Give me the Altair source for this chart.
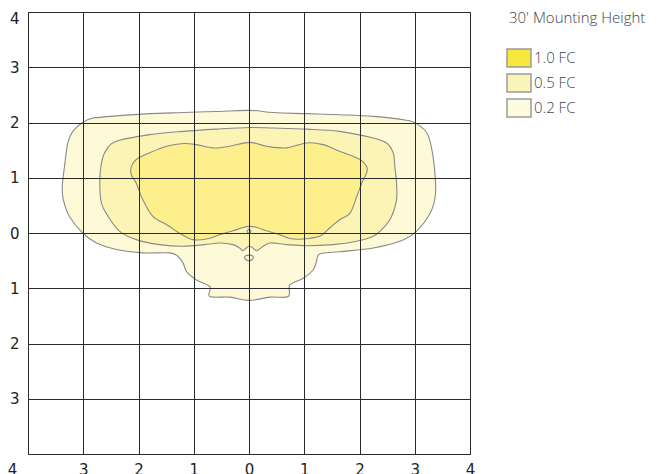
import altair as alt
import pandas as pd

# Iso-footcandle contours (grid units, mounting heights)
outer_x = [-3.01, -2.82, -2.40, -1.80, -1.19, -0.59, 0.01, 0.44, 1.04, 1.64, 2.25, 2.85, 3.03, 3.22, 3.31, 3.37,
           3.37, 3.28, 3.03, 2.73, 2.25, 1.64, 1.28, 1.22, 1.16, 0.98, 0.74, 0.71, 0.38, 0.01, -0.35, -0.71,
           -0.71, -0.95, -1.13, -1.19, -1.28, -1.43, -1.92, -2.40, -2.76, -3.01, -3.25, -3.36, -3.38, -3.34,
           -3.28, -3.19]
outer_y = [2.00, 2.08, 2.12, 2.16, 2.18, 2.20, 2.22, 2.18, 2.16, 2.14, 2.11, 2.04, 1.98, 1.81, 1.51, 1.02,
           0.66, 0.36, 0.03, -0.15, -0.27, -0.34, -0.38, -0.52, -0.67, -0.82, -0.94, -1.15, -1.16, -1.22,
           -1.16, -1.15, -0.97, -0.85, -0.70, -0.55, -0.43, -0.36, -0.36, -0.30, -0.18, 0.00, 0.30, 0.60,
           0.84, 1.20, 1.63, 1.84]

mid_x = [-2.40, -1.80, -1.19, -0.59, 0.01, 0.44, 1.04, 1.64, 2.25, 2.49, 2.61, 2.64, 2.67, 2.67, 2.58, 2.43,
         2.25, 1.95, 1.52, 1.04, 0.68, 0.38, 0.23, 0.14, 0.07, 0.01, -0.05, -0.11, -0.17, -0.29, -0.53,
         -0.71, -1.19, -1.62, -2.04, -2.34, -2.55, -2.67, -2.70, -2.67, -2.58]
mid_y = [1.66, 1.78, 1.84, 1.88, 1.91, 1.90, 1.88, 1.84, 1.72, 1.63, 1.45, 1.20, 0.90, 0.60, 0.30, 0.09,
         -0.06, -0.15, -0.21, -0.23, -0.21, -0.18, -0.26, -0.32, -0.27, -0.24, -0.27, -0.32, -0.27, -0.21,
         -0.18, -0.20, -0.24, -0.21, -0.12, 0.03, 0.30, 0.54, 0.90, 1.27, 1.51]

inner_x = [-2.13, -2.04, -1.80, -1.49, -1.19, -0.95, -0.65, -0.35, 0.01, 0.32, 0.68, 1.04, 1.34, 1.64, 2.01,
           2.13, 2.13, 2.04, 1.95, 1.83, 1.64, 1.46, 1.28, 0.97, 0.74, 0.56, 0.32, 0.14, 0.01, -0.11, -0.29,
           -0.53, -0.77, -1.02, -1.25, -1.49, -1.74, -1.92, -2.04, -2.13]
inner_y = [1.20, 1.33, 1.45, 1.57, 1.62, 1.60, 1.54, 1.57, 1.64, 1.57, 1.54, 1.63, 1.60, 1.48, 1.33,
           1.20, 1.09, 0.90, 0.66, 0.36, 0.24, 0.09, -0.06, -0.11, -0.10, -0.03, 0.04, 0.10, 0.12, 0.10,
           0.04, -0.03, -0.11, -0.12, -0.01, 0.15, 0.30, 0.60, 0.90, 1.05]

dot_x = [-0.035, 0.0, 0.035, 0.0]
dot_y = [0.03, 0.065, 0.03, -0.005]

blob_x = [-0.08, -0.06, 0.0, 0.06, 0.08, 0.06, 0.0, -0.06]
blob_y = [-0.44, -0.41, -0.40, -0.41, -0.44, -0.48, -0.50, -0.48]

levels = ["1.0 FC", "0.5 FC", "0.2 FC"]
legend_colors = ["#F6E83C", "#FBF4BA", "#FEFCDE"]
area_colors = {"outer": "#FEF9D6", "mid": "#FCF4B4", "inner": "#FDEF8C"}
ticks = [-4, -3, -2, -1, 0, 1, 2, 3, 4]


def poly(xs, ys):
    return pd.DataFrame({"x": xs, "y": ys, "i": list(range(len(xs)))})


xscale = alt.Scale(domain=[-4, 4], nice=False, zero=False)
yscale = alt.Scale(domain=[-4, 4], nice=False, zero=False)

x_axis = alt.Axis(
    values=ticks, title=None, ticks=False, domain=False, grid=True,
    gridColor="#2a2a2a", gridWidth=1, gridOpacity=1,
    labelExpr="'' + abs(datum.value)", labelFont="DejaVu Sans", labelFontSize=15,
    labelColor="#222", labelPadding=8, labelFlush=False,
    labelOffset={"condition": {"test": "datum.value == -4", "value": -16}, "value": 0},
    zindex=1,
)
y_axis = alt.Axis(
    values=ticks, title=None, ticks=False, domain=False, grid=True,
    gridColor="#2a2a2a", gridWidth=1, gridOpacity=1,
    labelExpr="datum.value == -4 ? '' : '' + abs(datum.value)", labelFont="DejaVu Sans",
    labelFontSize=15, labelColor="#222", labelPadding=9, labelFlush=False,
    labelOffset={"condition": {"test": "datum.value == 4", "value": 6}, "value": 0},
    zindex=1,
)


def shape(xs, ys, fill):
    return alt.Chart(poly(xs, ys)).mark_line(
        fill=fill, stroke="#8a8a8a", strokeWidth=1.1, interpolate="cardinal-closed"
    ).encode(
        x=alt.X("x:Q", scale=xscale, axis=x_axis),
        y=alt.Y("y:Q", scale=yscale, axis=y_axis),
        order=alt.Order("i:Q"),
    )


outer = shape(outer_x, outer_y, area_colors["outer"])
mid = shape(mid_x, mid_y, area_colors["mid"])
inner = shape(inner_x, inner_y, area_colors["inner"])
dot = shape(dot_x, dot_y, area_colors["mid"])
blob = shape(blob_x, blob_y, area_colors["outer"])

legend_df = pd.DataFrame({"level": levels, "x": [10, 10, 10], "y": [10, 10, 10]})
legend_layer = alt.Chart(legend_df).mark_square(clip=True, size=10).encode(
    x=alt.X("x:Q", scale=xscale, axis=x_axis),
    y=alt.Y("y:Q", scale=yscale, axis=y_axis),
    fill=alt.Fill(
        "level:N",
        scale=alt.Scale(domain=levels, range=legend_colors),
        legend=alt.Legend(
            title="30' Mounting Height", orient="none", legendX=481, legendY=-1,
            symbolType="M-1.333,-1H1.333V1H-1.333Z", symbolSize=324,
            symbolStrokeColor="#9a9a9a", symbolStrokeWidth=1.5, symbolOpacity=1,
            labelFont="Open Sans", labelFontSize=15, labelColor="#444", labelFontWeight=300,
            labelOffset=5, rowPadding=1, titlePadding=22, padding=0,
            titleFont="Open Sans", titleFontSize=15, titleFontWeight=300, titleColor="#444",
            titleLimit=400,
        ),
    ),
)

chart = alt.layer(outer, mid, inner, dot, blob, legend_layer).properties(
    width=442, height=442,
    autosize=alt.AutoSizeParams(type="none"),
    padding={"left": 20, "top": 4, "right": 190, "bottom": 22},
).configure_view(stroke="#2a2a2a", strokeWidth=1)

chart.save("out.html", embed_options={"renderer": "svg", "actions": False})
